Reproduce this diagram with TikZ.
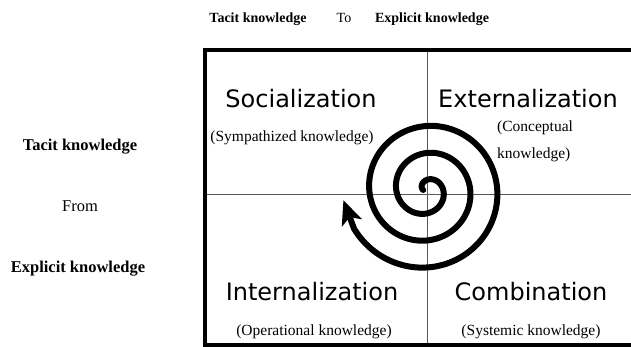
\documentclass[tikz,border=0pt]{standalone}
\usepackage{fontspec}
\setmainfont{Liberation Serif}
\newfontfamily\quadfont{DejaVu Sans}
\usepackage{tikz}
\usetikzlibrary{arrows.meta}
\tikzstyle{quadrant} = [font=\quadfont\fontsize{24}{28}\selectfont, inner sep=0pt, anchor=base]
\tikzstyle{kind} = [font=\fontsize{15.5}{27}\selectfont, inner sep=0pt, anchor=base]
\tikzstyle{heading} = [font=\bfseries\fontsize{14}{17}\selectfont, inner sep=0pt, anchor=base]
\tikzstyle{link} = [font=\fontsize{14}{17}\selectfont, inner sep=0pt, anchor=base]
\tikzstyle{sidehead} = [font=\bfseries\fontsize{16.5}{20}\selectfont, inner sep=0pt, anchor=base]
\tikzstyle{sidelink} = [font=\fontsize{16.5}{20}\selectfont, inner sep=0pt, anchor=base]
\tikzstyle{frame} = [line width=4pt]
\tikzstyle{divider} = [line width=1pt, black!65]
\tikzstyle{spiral} = [line width=6pt, line cap=round, -{Stealth[length=24pt,width=21pt,inset=6pt]}]
\tikzset{declare function={spr(\t)=10+0.075*\t;}}

\begin{document}
\begin{tikzpicture}[x=1pt,y=-1pt]
		\useasboundingbox (0,0) rectangle (631,347);
		\clip (0,0) rectangle (631,347);
		\coordinate (nw) at (205,50);
		\coordinate (se) at (640,345);
		\coordinate (vtop) at (427,50);
		\coordinate (vbot) at (427,345);
		\coordinate (hleft) at (205,195);
		\coordinate (hright) at (640,195);
		\draw [divider](vtop) -- (vbot);
		\draw [divider](hleft) -- (hright);
		\draw [frame](nw) rectangle (se);
		\draw [spiral] plot[domain=-90:962, samples=400] ({426.5+spr(\x)*sin(\x)}, {190-spr(\x)*cos(\x)}) -- ({426.5+spr(983)*sin(983)}, {190-spr(983)*cos(983)});
		\node (soc) [quadrant] at (301,108) {Socialization};
		\node (ext) [quadrant] at (528,108) {Externalization};
		\node (int) [quadrant] at (312,300) {Internalization};
		\node (com) [quadrant] at (531,300) {Combination};
		\node (socsub) [kind] at (292,142) {(Sympathized knowledge)};
		\node (extsub) [kind, anchor=north west, align=left] at (497,121) {(Conceptual\\knowledge)};
		\node (intsub) [kind] at (314,335) {(Operational knowledge)};
		\node (comsub) [kind] at (531,335) {(Systemic knowledge)};
		\node (toptacit) [heading] at (258,23) {Tacit knowledge};
		\node (to) [link] at (344,23) {To};
		\node (topexplicit) [heading] at (432,23) {Explicit knowledge};
		\node (lefttacit) [sidehead] at (80,151) {Tacit knowledge};
		\node (from) [sidelink] at (80,212) {From};
		\node (leftexplicit) [sidehead] at (78,272) {Explicit knowledge};
	\end{tikzpicture}
\end{document}
